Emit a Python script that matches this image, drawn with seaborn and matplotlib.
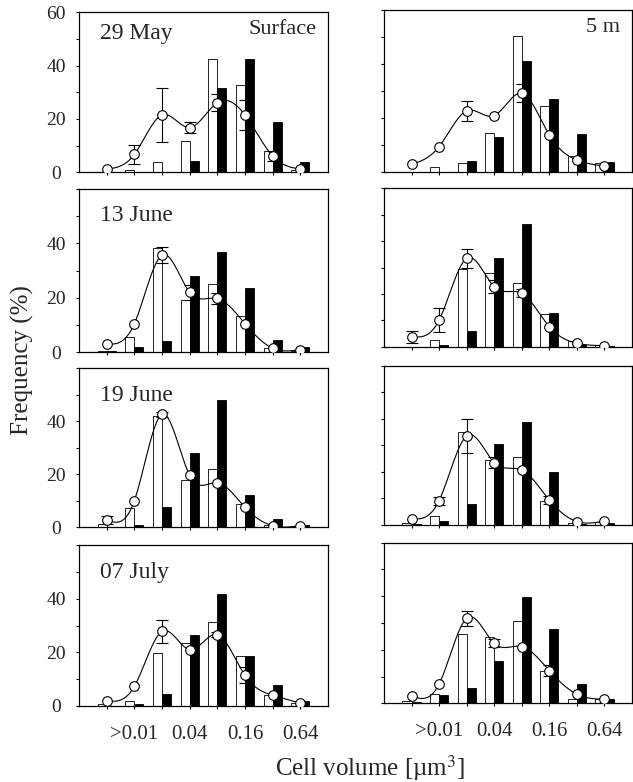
import numpy as np
import pandas as pd
import matplotlib
matplotlib.use('Agg')
import matplotlib.pyplot as plt
from matplotlib.ticker import MultipleLocator
import seaborn as sns

# size classes (x positions 0..7), only every second one is labelled
size_labels = ['', '>0.01', '', '0.04', '', '0.16', '', '0.64']
dates = ['29 May', '13 June', '19 June', '07 July']

# surface: open bars, filled bars, mean (circles), error
may29_surf_open = [0, 0.8, 4.0, 11.8, 42.5, 32.8, 8.0, 1.0]
may29_surf_fill = [0, 0, 0, 4.4, 31.5, 42.4, 19.0, 3.9]
may29_surf_mean = [1.2, 6.7, 21.5, 16.8, 26.1, 21.5, 6.1, 1.2]
may29_surf_err = [0, 3.4, 10.2, 2.2, 3.2, 5.5, 2.0, 0]

jun13_surf_open = [0.6, 5.5, 38.2, 19.2, 25.0, 13.3, 1.5, 0.6]
jun13_surf_fill = [0.6, 1.8, 4.3, 28.1, 36.9, 23.7, 4.5, 1.8]
jun13_surf_mean = [3.0, 10.5, 35.7, 22.0, 19.8, 10.5, 1.5, 1.0]
jun13_surf_err = [0, 0, 3.0, 2.8, 2.0, 0, 0, 0]

jun19_surf_open = [1.1, 7.1, 42.1, 17.8, 21.8, 8.8, 0.9, 0.6]
jun19_surf_fill = [0, 0.9, 7.8, 28.1, 48.0, 12.1, 3.0, 0.9]
jun19_surf_mean = [2.8, 10.0, 42.5, 19.6, 16.8, 7.5, 0.6, 0.6]
jun19_surf_err = [1.5, 0, 1.0, 0, 0, 0, 0, 0]

jul07_surf_open = [0.9, 1.7, 19.9, 23.6, 31.3, 18.5, 4.2, 1.1]
jul07_surf_fill = [0, 0.7, 4.3, 26.3, 41.9, 18.6, 8.0, 1.7]
jul07_surf_mean = [1.9, 7.3, 27.8, 21.0, 26.6, 11.4, 4.0, 1.1]
jul07_surf_err = [0, 0, 4.2, 0, 1.0, 3.0, 0, 0]

# 5 m
may29_5m_open = [0, 1.9, 3.1, 14.2, 50.4, 24.4, 5.9, 3.3]
may29_5m_fill = [0, 0, 4.1, 13.0, 41.2, 27.0, 13.9, 3.5]
may29_5m_mean = [2.7, 9.3, 22.6, 20.8, 29.1, 13.6, 4.3, 2.1]
may29_5m_err = [0, 0, 3.7, 0, 3.4, 0, 0, 0]

jun13_5m_open = [0, 2.5, 29.3, 28.0, 24.2, 12.2, 2.1, 0.5]
jun13_5m_fill = [0, 0.6, 5.9, 33.5, 46.5, 12.6, 0.8, 0.3]
jun13_5m_mean = [3.8, 10.1, 33.5, 22.7, 20.2, 7.6, 1.3, 0.4]
jun13_5m_err = [2.3, 4.4, 3.6, 2.5, 1.5, 0, 0, 0]

jun19_5m_open = [0.6, 3.4, 34.9, 24.5, 25.7, 9.2, 0.9, 1.3]
jun19_5m_fill = [0.4, 1.5, 7.8, 30.5, 38.9, 19.8, 0.4, 0.6]
jun19_5m_mean = [2.3, 9.2, 33.6, 23.5, 20.7, 9.4, 1.3, 1.5]
jun19_5m_err = [0, 1.5, 6.5, 2.0, 0, 1.5, 0, 0]

jul07_5m_open = [1.0, 3.5, 25.8, 24.7, 30.9, 12.1, 1.5, 1.6]
jul07_5m_fill = [0.6, 3.1, 5.6, 15.8, 39.6, 27.6, 7.2, 1.6]
jul07_5m_mean = [2.7, 7.2, 31.8, 22.4, 21.2, 12.2, 3.4, 1.5]
jul07_5m_err = [0, 0, 2.8, 1.5, 0, 2.0, 0, 0]

surface = [
    (may29_surf_open, may29_surf_fill, may29_surf_mean, may29_surf_err),
    (jun13_surf_open, jun13_surf_fill, jun13_surf_mean, jun13_surf_err),
    (jun19_surf_open, jun19_surf_fill, jun19_surf_mean, jun19_surf_err),
    (jul07_surf_open, jul07_surf_fill, jul07_surf_mean, jul07_surf_err),
]
five_m = [
    (may29_5m_open, may29_5m_fill, may29_5m_mean, may29_5m_err),
    (jun13_5m_open, jun13_5m_fill, jun13_5m_mean, jun13_5m_err),
    (jun19_5m_open, jun19_5m_fill, jun19_5m_mean, jun19_5m_err),
    (jul07_5m_open, jul07_5m_fill, jul07_5m_mean, jul07_5m_err),
]


def smooth(x, y, n=200):
    # natural cubic spline through the means, like the original curve
    x = np.asarray(x, float)
    y = np.asarray(y, float)
    k = len(x)
    h = np.diff(x)
    A = np.zeros((k, k))
    r = np.zeros(k)
    A[0, 0] = A[-1, -1] = 1
    for i in range(1, k - 1):
        A[i, i - 1] = h[i - 1]
        A[i, i] = 2 * (h[i - 1] + h[i])
        A[i, i + 1] = h[i]
        r[i] = 3 * ((y[i + 1] - y[i]) / h[i] - (y[i] - y[i - 1]) / h[i - 1])
    c = np.linalg.solve(A, r)
    xs = np.linspace(x[0], x[-1], n)
    idx = np.clip(np.searchsorted(x, xs) - 1, 0, k - 2)
    dx = xs - x[idx]
    b = (y[idx + 1] - y[idx]) / h[idx] - h[idx] * (2 * c[idx] + c[idx + 1]) / 3
    d = (c[idx + 1] - c[idx]) / (3 * h[idx])
    ys = y[idx] + b * dx + c[idx] * dx ** 2 + d * dx ** 3
    return xs, ys


sns.set_style('ticks')
plt.rcParams['font.family'] = ['Liberation Serif', 'DejaVu Serif']
plt.rcParams['mathtext.fontset'] = 'stix'

W, H = 633, 782
fig = plt.figure(figsize=(W / 100, H / 100), dpi=100)

# panel boxes in pixels (top, bottom)
left_rows = [(12.3, 172.3), (189.0, 352.3), (368.0, 527.3), (545.0, 706.0)]
right_rows = [(10.0, 171.7), (188.3, 346.7), (365.7, 525.0), (542.7, 703.3)]
date_y = [0.87, 0.84, 0.83, 0.83]


def draw_panel(ax, vals, row, is_left):
    op, fi, mean, err = vals
    pos = np.arange(len(op))
    df = pd.DataFrame({
        'pos': np.concatenate([pos, pos]),
        'freq': op + fi,
        'kind': ['open'] * len(op) + ['filled'] * len(fi),
    })
    sns.barplot(data=df, x='pos', y='freq', hue='kind', native_scale=True,
                palette={'open': 'white', 'filled': 'black'}, width=0.66,
                edgecolor='black', linewidth=0.6, errorbar=None, legend=False,
                saturation=1, ax=ax)
    xs, ys = smooth(pos, mean)
    sns.lineplot(x=xs, y=ys, color='black', lw=0.8, ax=ax, zorder=3,
                 estimator=None, sort=False)
    e = np.array(err)
    m = e > 0
    ax.errorbar(pos[m], np.array(mean)[m], yerr=e[m], fmt='none', ecolor='black',
                elinewidth=0.8, capsize=4, capthick=0.8, zorder=4)
    sns.scatterplot(x=pos, y=mean, marker='o', s=48, color='white',
                    edgecolor='black', linewidth=0.8, ax=ax, zorder=5)

    ax.set_xlim(-1, 8)
    ax.set_ylim(0, 60)
    ax.set_xticks(pos)
    if row == 3:
        ax.set_xticklabels(size_labels, fontsize=15)
    else:
        ax.set_xticklabels([])
    ax.set_yticks([0, 20, 40, 60])
    ax.yaxis.set_minor_locator(MultipleLocator(10))
    if is_left:
        ylabs = ['0', '20', '40', '60'] if row == 0 else ['0', '20', '40', '']
        ax.set_yticklabels(ylabs, fontsize=14)
        for t in ax.get_yticklabels():
            t.set_horizontalalignment('center')
    else:
        ax.set_yticklabels([])
    ax.tick_params(axis='both', which='both', direction='out', length=2.5,
                   width=0.8, color='black')
    ax.tick_params(axis='y', which='major', pad=14)
    ax.tick_params(axis='x', which='major', pad=11)
    ax.set_xlabel('')
    ax.set_ylabel('')
    for s in ax.spines.values():
        s.set_visible(True)
        s.set_linewidth(0.9)
        s.set_color('black')


for row in range(4):
    top, bot = left_rows[row]
    axl = fig.add_axes([79 / W, 1 - bot / H, 249 / W, (bot - top) / H])
    draw_panel(axl, surface[row], row, True)
    axl.text(0.085, date_y[row], dates[row], transform=axl.transAxes,
             fontsize=17, ha='left', va='center')
    if row == 0:
        axl.text(0.955, 0.89, 'Surface', transform=axl.transAxes,
                 fontsize=16, ha='right', va='center')

    top, bot = right_rows[row]
    axr = fig.add_axes([384 / W, 1 - bot / H, 248 / W, (bot - top) / H])
    draw_panel(axr, five_m[row], row, False)
    if row == 0:
        axr.text(0.95, 0.89, '5 m', transform=axr.transAxes,
                 fontsize=16, ha='right', va='center')

fig.text(22 / W, 1 - 360 / H, 'Frequency (%)', rotation=90, fontsize=18,
         ha='center', va='center')
fig.text(370 / W, 1 - 768 / H, r'Cell volume [µm$^3$]', fontsize=18,
         ha='center', va='center')

fig.savefig('out.png', dpi=100)
